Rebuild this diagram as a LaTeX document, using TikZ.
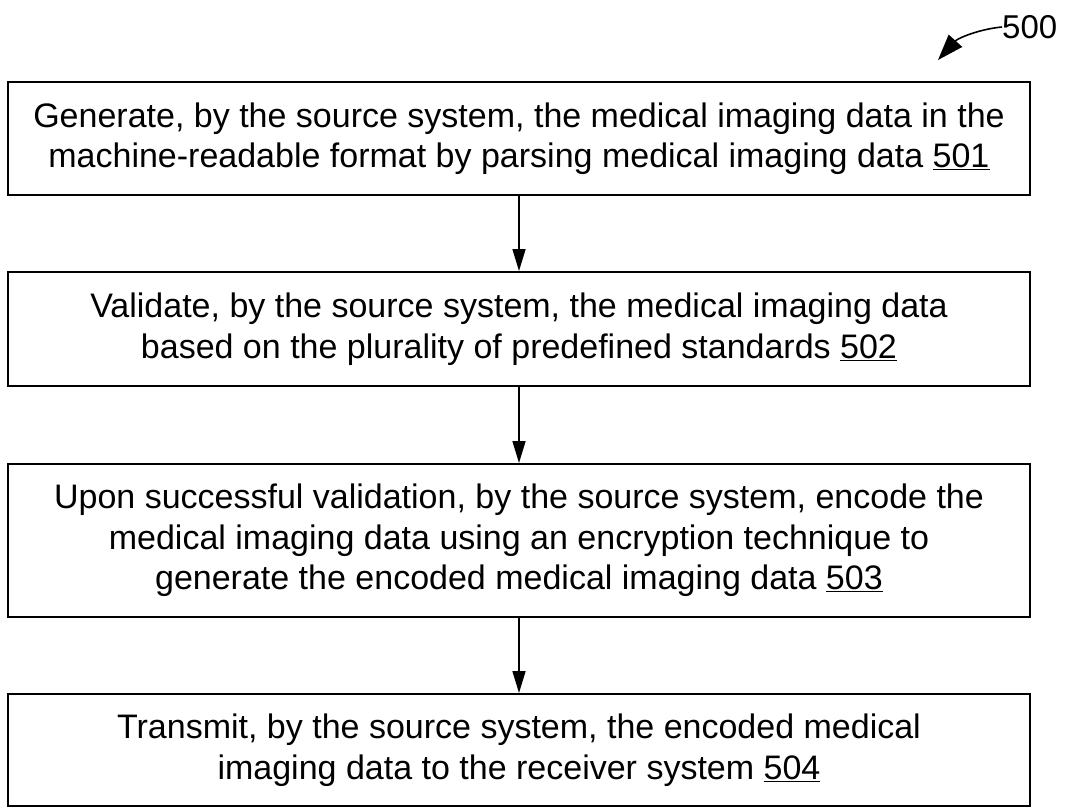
\documentclass[tikz,border=0pt]{standalone}
\usepackage{fontspec}
\setmainfont{Liberation Sans}
\usetikzlibrary{arrows.meta}
\begin{document}
\begin{tikzpicture}[x=1pt,y=-1pt,
  stepbox/.style={draw, line width=2pt, minimum width=1022pt, align=center,
    inner sep=0pt, font=\fontsize{34}{40.5}\selectfont},
  flow/.style={line width=1.6pt, -{Triangle[length=22pt,width=13pt]}}]
\useasboundingbox (0,0) rectangle (1065,808);

\node[stepbox, minimum height=113pt] (s1) at (519,138.5)
  {Generate, by the source system, the medical imaging data in the\\
   machine-readable format by parsing medical imaging data \underline{501}};
\node[stepbox, minimum height=114pt] (s2) at (519,329)
  {Validate, by the source system, the medical imaging data\\
   based on the plurality of predefined standards \underline{502}};
\node[stepbox, minimum height=153pt] (s3) at (519,540.5)
  {Upon successful validation, by the source system, encode the\\
   medical imaging data using an encryption technique to\\
   generate the encoded medical imaging data \underline{503}};
\node[stepbox, minimum height=112pt] (s4) at (519,750)
  {Transmit, by the source system, the encoded medical\\
   imaging data to the receiver system \underline{504}};

\draw[flow] (s1) -- (s2);
\draw[flow] (s2) -- (s3);
\draw[flow] (s3) -- (s4);

% figure reference label with its curved pointer
\node[anchor=west, inner sep=0pt, font=\fontsize{33}{40}\selectfont] (ref) at (1002,27) {500};
\coordinate (tip) at (938,60);
\draw[line width=1.6pt, -{Triangle[length=26pt,width=18pt]}]
  (ref.west) .. controls (980,29) and (958,38) .. (tip);
\end{tikzpicture}
\end{document}
